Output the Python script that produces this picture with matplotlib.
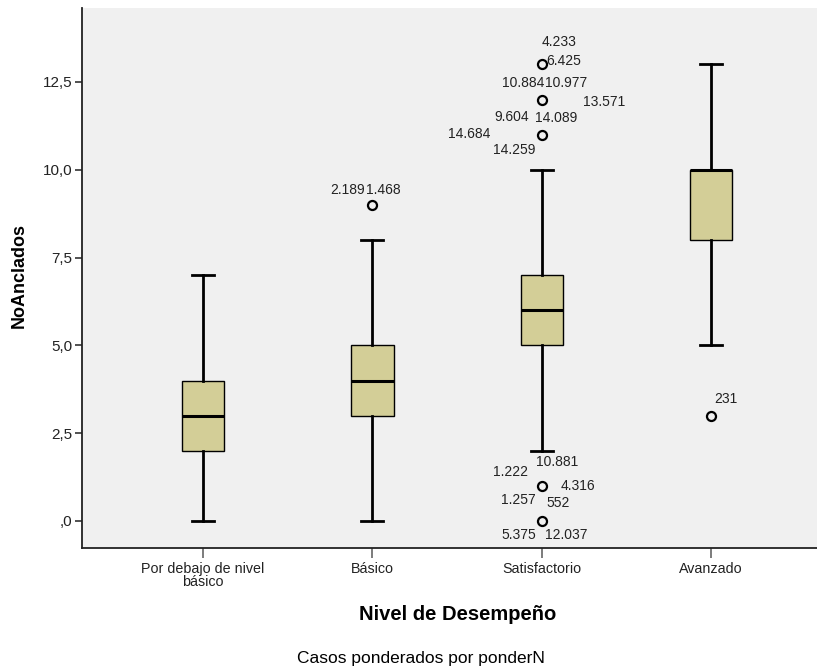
"""Boxplot of NoAnclados by performance level (SPSS style)."""

import matplotlib
matplotlib.use('Agg')
import matplotlib.pyplot as plt

# Data
CATEGORIES = ['Por debajo de nivel\nbásico', 'Básico', 'Satisfactorio', 'Avanzado']
WHISKER_LOW = [0, 0, 2, 5]
Q1 = [2, 3, 5, 8]
MEDIANS = [3, 4, 6, 10]
Q3 = [4, 5, 7, 10]
WHISKER_HIGH = [7, 8, 10, 13]

# outliers: group (1-based), value, case labels
OUTLIER_GROUP = [2, 3, 3, 3, 3, 3, 4]
OUTLIER_VALUE = [9, 13, 12, 11, 1, 0, 3]
OUTLIER_CASES = [
    ['2.189', '1.468'],
    ['4.233', '6.425'],
    ['10.884', '10.977', '13.571', '9.604', '14.089'],
    ['14.684', '14.259'],
    ['10.881', '1.222', '4.316', '1.257', '552'],
    ['5.375', '12.037'],
    ['231'],
]

YTICKS = [0, 2.5, 5, 7.5, 10, 12.5]
YTICK_LABELS = [',0', '2,5', '5,0', '7,5', '10,0', '12,5']

# label offsets in pixels from the marker
LABEL_OFFSETS = {
    '2.189': (-25, 15), '1.468': (11, 15),
    '4.233': (17, 22), '6.425': (22, 3),
    '10.884': (-19, 17), '10.977': (24, 17), '13.571': (62, -2),
    '9.604': (-30, -17), '14.089': (14, -18),
    '14.684': (-73, 1), '14.259': (-28, -15),
    '10.881': (15, 24), '1.222': (-31, 14), '4.316': (36, 0),
    '1.257': (-23, -14), '552': (16, -17),
    '5.375': (-23, -14), '12.037': (25, -14),
    '231': (15, 17),
}

BOX_COLOR = '#d3ce97'
BG_COLOR = '#f0f0f0'
FONT = 'Liberation Sans'

plt.rcParams['font.family'] = [FONT, 'DejaVu Sans']

W, H = 817, 670
fig = plt.figure(figsize=(W / 100, H / 100), dpi=100)
ax = fig.add_axes([82 / W, (H - 548) / H, (W - 82) / W, (548 - 8) / H])
ax.set_facecolor(BG_COLOR)

stats = []
for i, cat in enumerate(CATEGORIES):
    stats.append(dict(label=cat, whislo=WHISKER_LOW[i], q1=Q1[i], med=MEDIANS[i],
                      q3=Q3[i], whishi=WHISKER_HIGH[i], fliers=[]))

ax.bxp(stats, positions=range(1, len(CATEGORIES) + 1), widths=0.25, capwidths=0.13,
       patch_artist=True, showfliers=False,
       boxprops=dict(facecolor=BOX_COLOR, edgecolor='black', linewidth=1.0),
       medianprops=dict(color='black', linewidth=2.2),
       whiskerprops=dict(color='black', linewidth=2.0),
       capprops=dict(color='black', linewidth=2.0))

ax.plot(OUTLIER_GROUP, OUTLIER_VALUE, linestyle='none', marker='o', markersize=6.5,
        markerfacecolor='none', markeredgecolor='black', markeredgewidth=1.6)

for g, v, cases in zip(OUTLIER_GROUP, OUTLIER_VALUE, OUTLIER_CASES):
    for case in cases:
        dx, dy = LABEL_OFFSETS[case]
        ax.annotate(case, (g, v), xytext=(dx, dy), textcoords='offset pixels',
                    ha='center', va='center', fontsize=10, color='#222222')

ax.set_xlim(0.285, 4.626)
ax.set_ylim(-0.769, 14.607)
ax.set_yticks(YTICKS)
ax.set_yticklabels(YTICK_LABELS, fontsize=11, color='#222222')
ax.set_xticks(range(1, len(CATEGORIES) + 1))
ax.set_xticklabels(CATEGORIES, fontsize=10.3, linespacing=0.95, color='#222222')

ax.tick_params(axis='y', direction='out', length=5, width=1.2, color='#333333', pad=2)
ax.tick_params(axis='x', direction='out', length=7, width=1.2, color='#666666', pad=3)

for side in ['top', 'right']:
    ax.spines[side].set_visible(False)
for side in ['left', 'bottom']:
    ax.spines[side].set_linewidth(1.3)
    ax.spines[side].set_color('#222222')

fig.text(19 / W, 1 - 276 / H, 'NoAnclados', rotation=90, ha='center', va='center',
         fontsize=13, fontweight='bold')
fig.text(458 / W, 1 - 614 / H, 'Nivel de Desempeño', ha='center', va='center',
         fontsize=14.5, fontweight='bold')
fig.text(421 / W, 1 - 658 / H, 'Casos ponderados por ponderN', ha='center', va='center',
         fontsize=12.5)

fig.savefig('out.png', dpi=100)
